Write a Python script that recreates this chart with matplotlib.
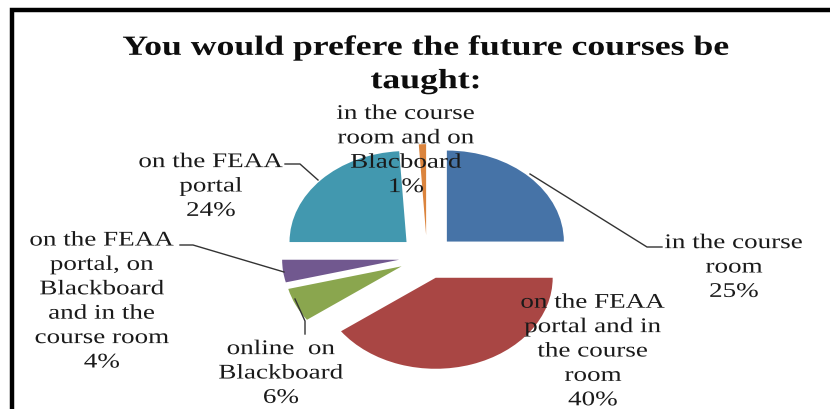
import matplotlib
matplotlib.use("Agg")
import matplotlib.pyplot as plt
from matplotlib.patheffects import AbstractPathEffect
from matplotlib.transforms import Affine2D

title = "You would prefere the future courses be\ntaught:"
values = [25, 40, 6, 4, 24, 1]
labels = [
    "in the course\nroom",
    "on the FEAA\nportal and in\nthe course\nroom",
    "online  on\nBlackboard",
    "on the FEAA\nportal, on\nBlackboard\nand in the\ncourse room",
    "on the FEAA\nportal",
    "in the course\nroom and on\nBlacboard",
]
colors = ["#4673A7", "#A94644", "#8AA64E", "#71588F", "#4298AF", "#DB843D"]

# where each label is centred, in pixels
label_x = [734, 593, 281, 102, 211, 406]
label_y = [269, 353, 375, 303, 188, 152]

plt.rcParams["font.family"] = ["Liberation Serif", "DejaVu Serif"]

W, H = 830, 410


# the reference text is stretched sideways, so widen the glyphs around centre x
class Widen(AbstractPathEffect):
    def __init__(self, x0, factor):
        super().__init__()
        self.x0 = x0
        self.factor = factor

    def draw_path(self, renderer, gc, tpath, affine, rgbFace=None):
        stretch = Affine2D().translate(-self.x0, 0).scale(self.factor, 1).translate(self.x0, 0)
        renderer.draw_path(gc, tpath, affine + stretch, rgbFace)


fig = plt.figure(figsize=(W / 100, H / 100), dpi=100)

# pie is squashed, so the axes are not equal aspect
cx, cy, rx, ry = 427, 258, 117, 91
ax = fig.add_axes([0, 0, 1, 1])
ax.pie(values, colors=colors, startangle=90, counterclock=False,
       explode=[0.24] * len(values), wedgeprops={"linewidth": 0})
ax.set_aspect("auto")
ax.set_xlim(-cx / rx, (W - cx) / rx)
ax.set_ylim((cy - H) / ry, cy / ry)

# overlay in pixel coordinates for frame, text and leader lines
ov = fig.add_axes([0, 0, 1, 1], facecolor="none")
ov.set_xlim(0, W)
ov.set_ylim(H, 0)
ov.axis("off")

ov.plot([12, 12, W], [H, 11, 11], color="black", lw=3.2, solid_joinstyle="miter")

ov.text(426, 66, title, ha="center", va="center", fontsize=20, fontweight="bold",
        color="#0d0d0d", linespacing=1.44, path_effects=[Widen(426, 1.285)])

for name, v, x, y in zip(labels, values, label_x, label_y):
    ov.text(x, y, f"{name}\n{v}%", ha="center", va="center", fontsize=15,
            color="#1a1a1a", linespacing=1.385, path_effects=[Widen(x, 1.30)])

leaders = [
    ([530, 647, 662], [175, 248, 248]),
    ([180, 193, 284], [246, 246, 273]),
    ([295, 305, 305], [300, 322, 335]),
    ([285, 300, 318], [165, 165, 181]),
]
for xs, ys in leaders:
    ov.plot(xs, ys, color="#333333", lw=1)

fig.savefig("out.png", dpi=100)
